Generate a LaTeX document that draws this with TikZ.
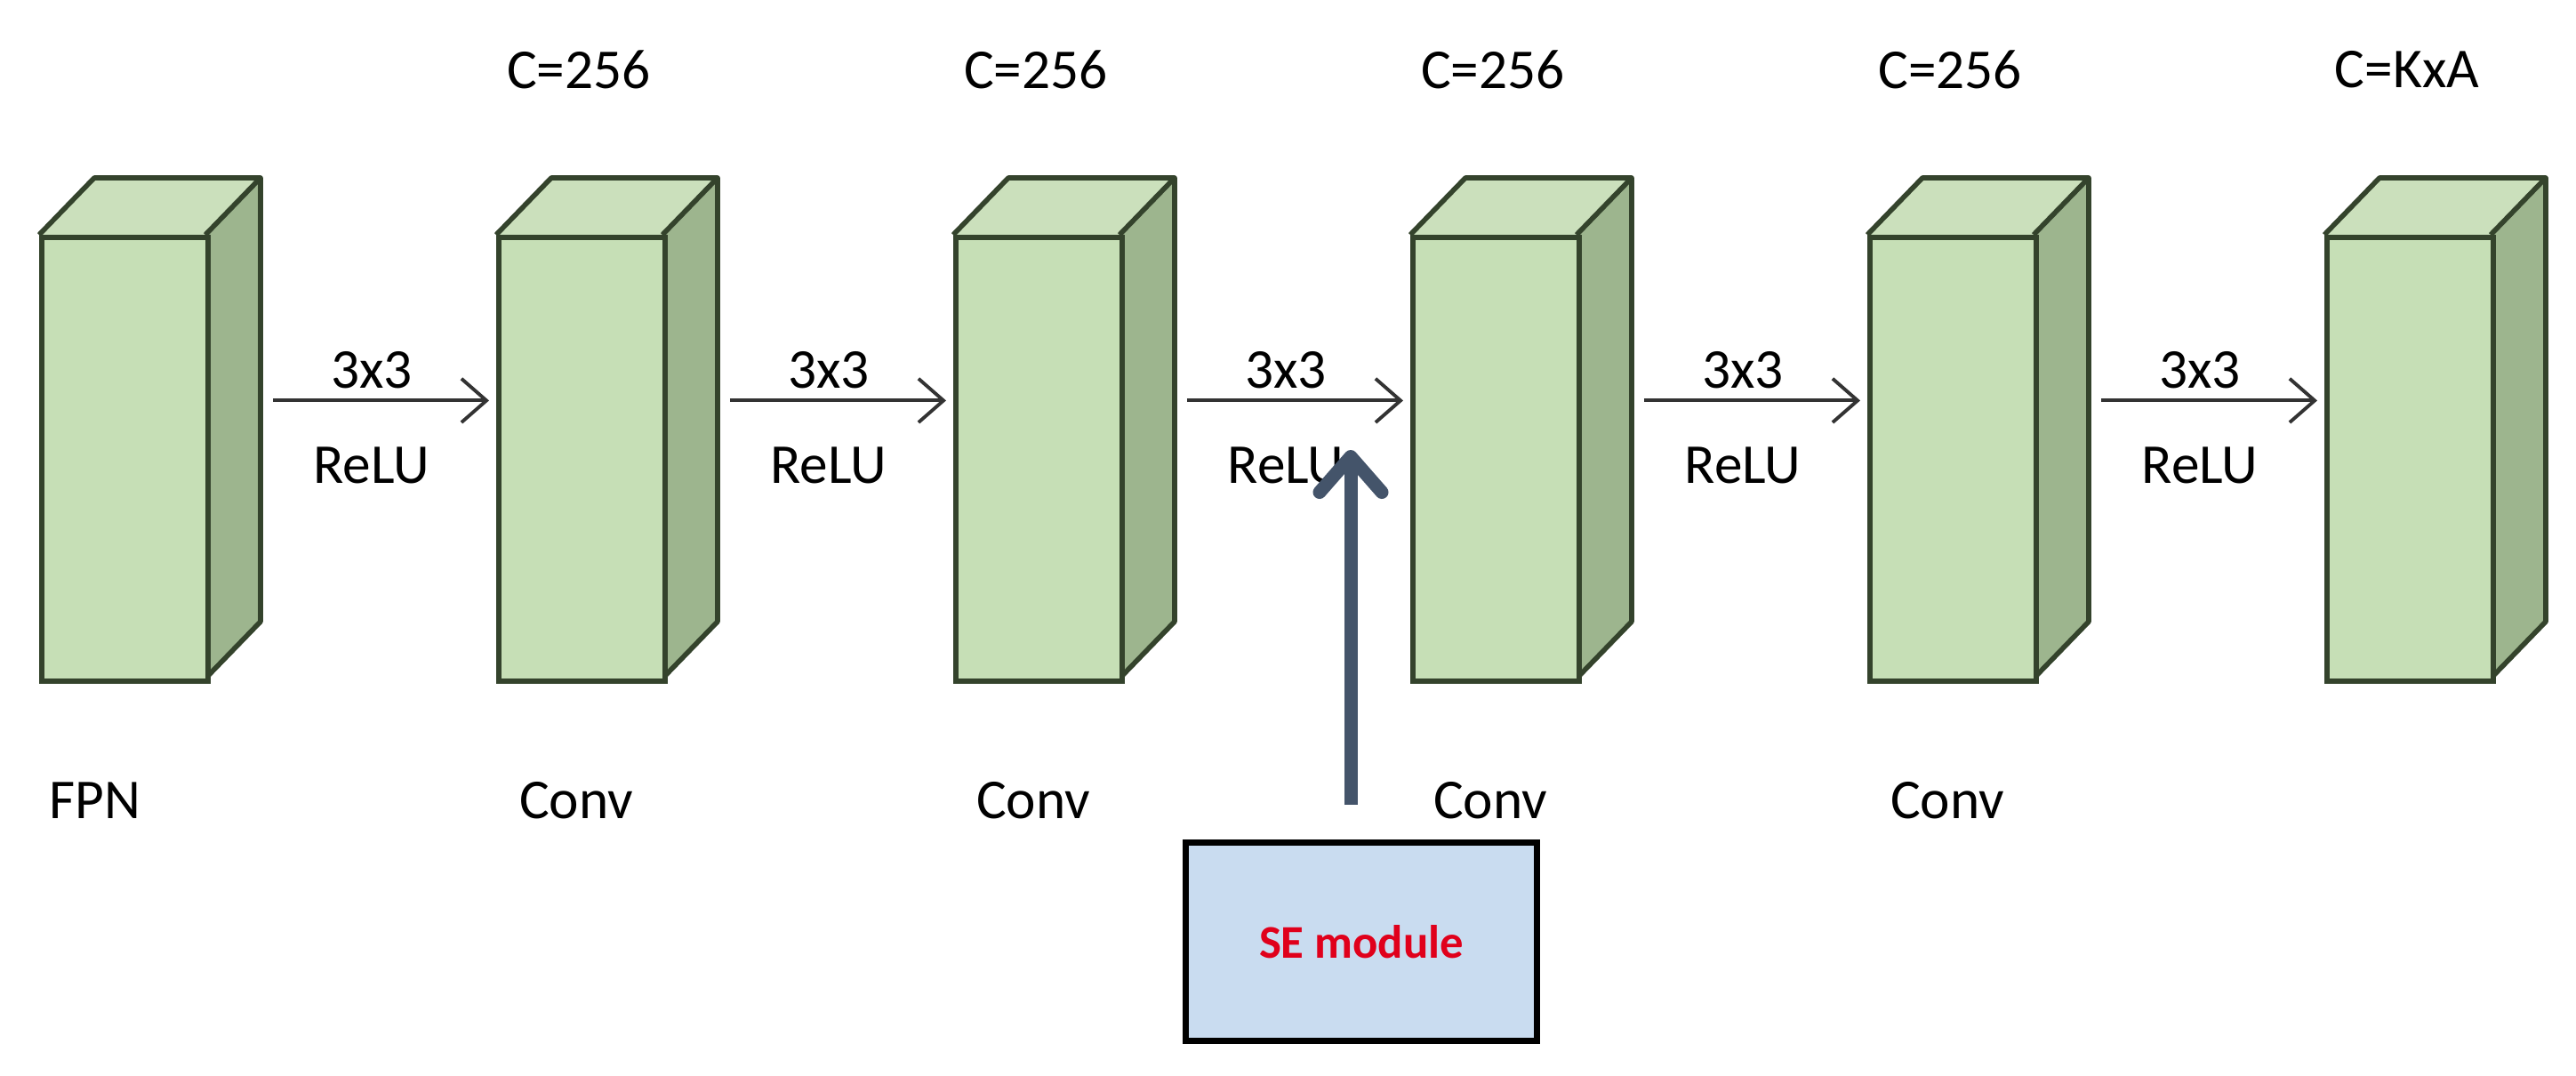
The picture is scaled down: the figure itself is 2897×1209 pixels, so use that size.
\documentclass[tikz,border=0pt]{standalone}
\usepackage{fontspec}
\setmainfont{Carlito}
\usetikzlibrary{arrows.meta}
\definecolor{frontc}{HTML}{C6DFB6}
\definecolor{sidec}{HTML}{9DB58E}
\definecolor{topc}{HTML}{CBE0BC}
\definecolor{edgec}{HTML}{34432C}
\definecolor{sefill}{HTML}{C9DCF0}
\definecolor{sered}{HTML}{E0001B}
\definecolor{bigarrow}{HTML}{44546A}
\begin{document}
\begin{tikzpicture}[x=0.01cm,y=-0.01cm,
  front/.style={draw=edgec,line width=1.6pt,fill=frontc,minimum width=1.87cm,minimum height=4.99cm,inner sep=0pt,anchor=north west},
  face/.style={draw=edgec,line width=1.6pt,line join=round},
  lbl/.style={font=\fontsize{18}{20}\selectfont,inner sep=0pt},
  conn/.style={draw=black!80,line width=1.1pt,-{Straight Barb[length=8pt,width=14pt]}}]
\useasboundingbox (0,0) rectangle (2897,1209);
\foreach \i/\x in {1/44,2/558,3/1072,4/1586,5/2100,6/2614}{
  \fill[topc] (\x,264) -- ++(62,-64) -- ++(187,0) -- ++(-62,64) -- cycle;
  \fill[sidec] (\x+187,264) -- ++(62,-64) -- ++(0,499) -- ++(-62,64) -- cycle;
  \draw[face] (\x,264) -- ++(62,-64) -- ++(187,0) -- ++(0,499) -- ++(-62,64);
  \draw[face] (\x+187,264) -- ++(62,-64);
  \node[front] (b\i) at (\x,264) {};
}
\foreach \i/\j/\xm in {1/2/418,2/3/932,3/4/1446,4/5/1960,5/6/2474}{
  \draw[conn] ([xshift=0.7cm,yshift=0.66cm]b\i.east) -- ([xshift=-0.08cm,yshift=0.66cm]b\j.west);
  \node[lbl] (t\i) at (\xm,416) {3x3};
  \node[lbl] (r\i) at (\xm,523) {ReLU};
}
\node[lbl] (c2) at (651,78) {C=256};
\node[lbl] (c3) at (1165,78) {C=256};
\node[lbl] (c4) at (1679,78) {C=256};
\node[lbl] (c5) at (2193,78) {C=256};
\node[lbl] (c6) at (2707,78) {C=KxA};
\node[lbl] (l1) at (107,900) {FPN};
\node[lbl] (l2) at (648,900) {Conv};
\node[lbl] (l3) at (1162,900) {Conv};
\node[lbl] (l4) at (1676,900) {Conv};
\node[lbl] (l5) at (2190,900) {Conv};
\node[draw=black,line width=2pt,fill=sefill,minimum width=3.94cm,minimum height=2.22cm,inner sep=0pt,
  font=\fontsize{15}{17}\selectfont\bfseries,text=sered] (se) at (1531,1059) {SE module};
\coordinate (seTop) at (1519,905);
\coordinate (tip) at (1519,506);
\draw[bigarrow,line width=0.15cm,line cap=butt,-{Straight Barb[length=0.4cm,width=0.7cm,line cap=round,line join=round]}] (seTop) -- (tip);
\end{tikzpicture}
\end{document}
